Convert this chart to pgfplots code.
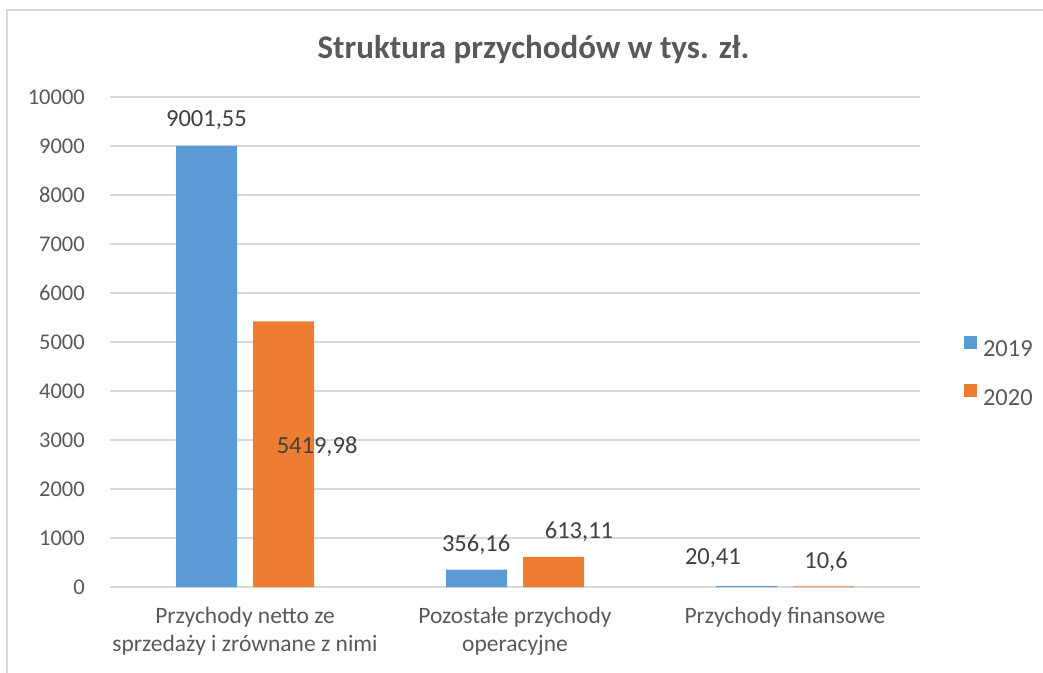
\documentclass[border=0pt]{standalone}
\usepackage{fontspec}
\setmainfont{Carlito}
\usepackage{pgfplots}
\pgfplotsset{compat=1.18}
\definecolor{barblue}{HTML}{5B9BD5}
\definecolor{barorange}{HTML}{ED7D31}
\definecolor{gridgray}{HTML}{D9D9D9}
\definecolor{txtgray}{HTML}{595959}
\definecolor{lblgray}{HTML}{404040}
\begin{document}
\begin{tikzpicture}
\useasboundingbox (0pt,0pt) rectangle (1043pt,672pt);
\begin{scope}
\clip (0pt,0pt) rectangle (1043pt,672pt);
\draw[gridgray, line width=1.5pt] (7pt,-20pt) rectangle (1080pt,662pt);
\end{scope}
\node[font=\fontsize{33}{38}\selectfont\bfseries, text=txtgray] at (533.5pt,622pt) {Struktura przychodów w tys. zł.};
\begin{axis}[
  at={(110pt,85pt)}, anchor=south west,
  scale only axis, width=810pt, height=490pt,
  xmin=-0.5, xmax=2.5, ymin=0, ymax=10000,
  ybar=16pt, bar width=61pt,
  xtick={0,1,2},
  xticklabels={{Przychody netto ze\\sprzedaży i zrównane z nimi},{Pozostałe przychody\\operacyjne},{Przychody finansowe}},
  xticklabel style={align=center, font=\fontsize{23.5}{28}\selectfont, text=txtgray, anchor=north, inner sep=0pt, yshift=-20pt},
  ytick={0,1000,2000,3000,4000,5000,6000,7000,8000,9000,10000},
  scaled y ticks=false,
  yticklabel style={font=\fontsize{22.5}{26}\selectfont, text=txtgray, anchor=east, inner sep=0pt, xshift=-25pt},
  /pgf/number format/assume math mode=true,
  /pgf/number format/1000 sep={},
  ymajorgrids, grid style={gridgray, line width=1.5pt},
  axis line style={draw=none}, major tick length=0pt, tick style={draw=none},
  legend style={at={(1.0543,0.4398)}, anchor=west, draw=none, fill=none, inner sep=0pt, outer sep=0pt,
    font=\fontsize{24.5}{28}\selectfont, text=txtgray, nodes={inner sep=0pt}, row sep=26pt,
    /tikz/every odd column/.append style={column sep=6pt}},
  legend cell align=left,
  legend image code/.code={\path[#1] (0pt,1pt) rectangle (13pt,14pt);},
  clip=false,
]
\addplot[fill=barblue, draw=none] coordinates {(0,9001.55) (1,356.16) (2,20.41)};
\addplot[fill=barorange, draw=none] coordinates {(0,5419.98) (1,613.11) (2,10.6)};
\legend{2019,2020}
\begin{scope}[every node/.style={font=\fontsize{24.5}{28}\selectfont, text=lblgray}]
\node at (axis cs:-0.143,9531) {9001,55};
\node at (axis cs:0.267,2857) {5419,98};
\node at (axis cs:0.856,857) {356,16};
\node at (axis cs:1.237,1122) {613,11};
\node at (axis cs:1.733,592) {20,41};
\node at (axis cs:2.152,510) {10,6};
\end{scope}
\end{axis}
\end{tikzpicture}
\end{document}
